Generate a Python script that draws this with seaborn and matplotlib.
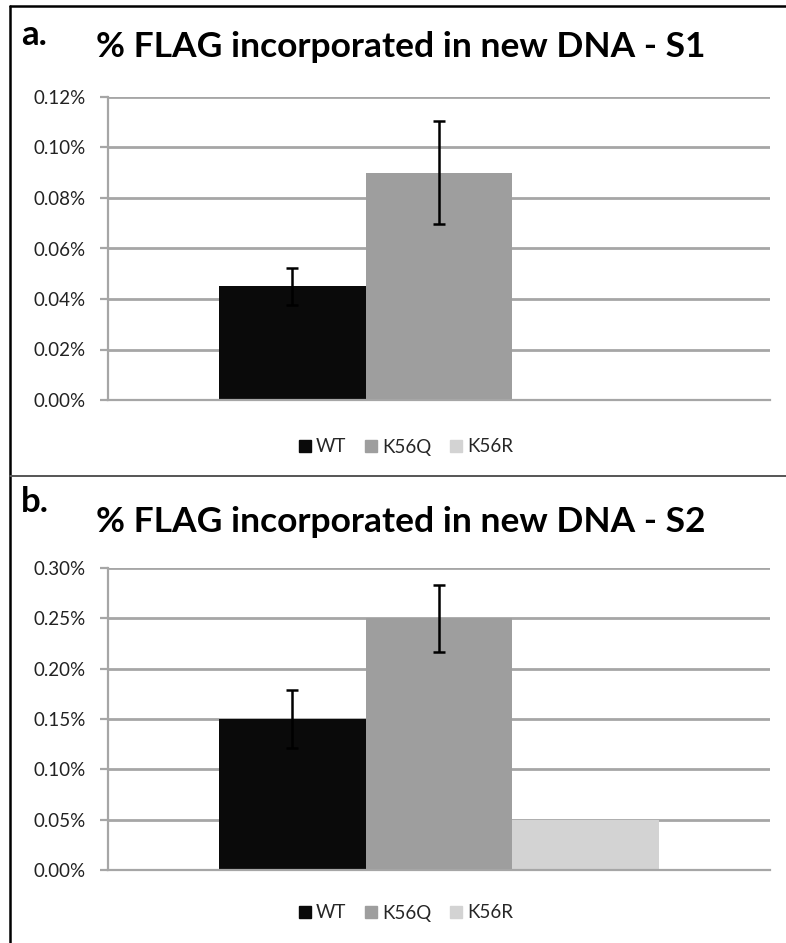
import matplotlib
matplotlib.use("Agg")
import matplotlib.pyplot as plt
from matplotlib.lines import Line2D
from matplotlib.ticker import FuncFormatter, MultipleLocator
import seaborn as sns
import pandas as pd

sns.set_theme(style="white")
plt.rcParams['font.family'] = ['Lato', 'DejaVu Sans']

strains = ["WT", "K56Q", "K56R"]
colors = ["#0a0a0a", "#9e9e9e", "#d3d3d3"]

s1_values = [0.045, 0.090, 0.0]
s1_errors = [0.0073, 0.0203, None]
s2_values = [0.150, 0.250, 0.050]
s2_errors = [0.0285, 0.0335, None]

titles = ["% FLAG incorporated in new DNA - S1", "% FLAG incorporated in new DNA - S2"]
panel_labels = ["a.", "b."]
y_max = [0.12, 0.30]
y_step = [0.02, 0.05]

W, H = 786, 943
fig = plt.figure(figsize=(W / 100, H / 100), dpi=100)

def px(x0, y_top, w, h):
    return [x0 / W, 1 - (y_top + h) / H, w / W, h / H]

panels = [
    dict(vals=s1_values, errs=s1_errors, rect=px(108, 97, 662, 303), title_y=57, lab_y=45, leg_y=447),
    dict(vals=s2_values, errs=s2_errors, rect=px(108, 568, 662, 302), title_y=532, lab_y=512, leg_y=913),
]

grid_c = "#a6a6a6"
for i, p in enumerate(panels):
    ax = fig.add_axes(p["rect"])
    df = pd.DataFrame({"group": ["g"] * 3, "strain": strains, "value": p["vals"]})
    sns.barplot(data=df, x="group", y="value", hue="strain", hue_order=strains,
                palette=colors, width=0.8, ax=ax, legend=False, saturation=1,
                edgecolor="none", linewidth=0)
    for patch, err in zip(ax.patches, p["errs"]):
        if err is None:
            continue
        cx = patch.get_x() + patch.get_width() / 2
        ax.errorbar(cx, patch.get_height(), yerr=err, fmt="none", ecolor="black",
                    elinewidth=1.8, capsize=4, capthick=1.8, zorder=5)
    ax.set_xlim(-0.6005, 0.6005)
    ax.set_ylim(0, y_max[i])
    ax.yaxis.set_major_locator(MultipleLocator(y_step[i]))
    ax.yaxis.set_major_formatter(FuncFormatter(lambda v, _: f"{v:.2f}%"))
    ax.set_xticks([])
    ax.set_xlabel("")
    ax.set_ylabel("")
    ax.grid(axis="y", color=grid_c, linewidth=2)
    ax.set_axisbelow(True)
    for s in ["top", "right"]:
        ax.spines[s].set_visible(False)
    for s in ["left", "bottom"]:
        ax.spines[s].set_color(grid_c)
        ax.spines[s].set_linewidth(1.6)
    ax.tick_params(axis="y", length=6, width=1.6, color=grid_c, labelsize=13.5,
                   labelcolor="#222222", left=True, pad=10)
    fig.text(401 / W, 1 - p["title_y"] / H, titles[i], ha="center", va="baseline",
             fontsize=25.5, fontweight="bold", color="black")
    fig.text(21 / W, 1 - p["lab_y"] / H, panel_labels[i], ha="left", va="baseline",
             fontsize=25, fontweight="bold", color="black")
    handles = [Line2D([], [], marker="s", linestyle="none", markersize=9,
                      markerfacecolor=c, markeredgecolor=c) for c in colors]
    fig.legend(handles, strains, loc="center", bbox_to_anchor=(405 / W, 1 - p["leg_y"] / H),
               ncol=3, frameon=False, fontsize=13.5, handletextpad=0.2,
               columnspacing=0.9, handlelength=0.8)

# outer frame lines
lc = "black"
fig.add_artist(Line2D([10 / W, 1], [1 - 6 / H, 1 - 6 / H], color=lc, linewidth=1.8))
fig.add_artist(Line2D([10 / W, 10 / W], [1 - 6 / H, 0], color=lc, linewidth=1.8))
fig.add_artist(Line2D([10 / W, 1], [1 - 476 / H, 1 - 476 / H], color="#555555", linewidth=1.4))

fig.savefig("out.png", dpi=100)
